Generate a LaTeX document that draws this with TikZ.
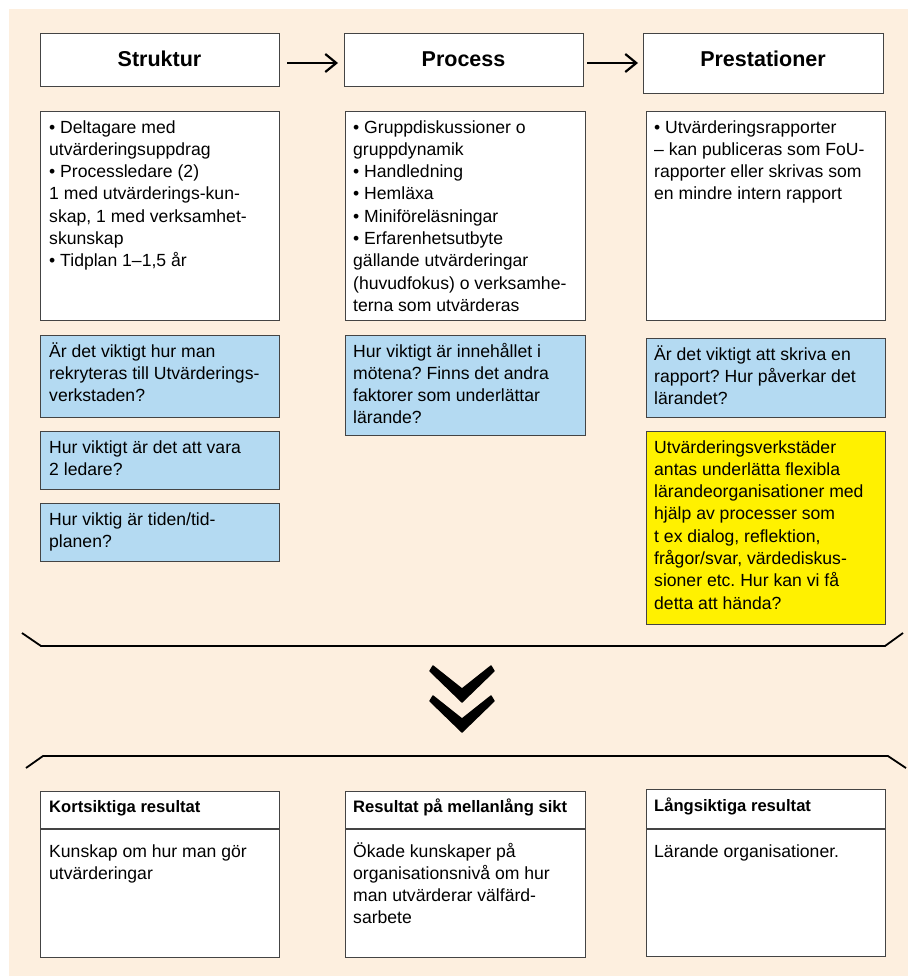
\documentclass[tikz,border=0pt]{standalone}
\usepackage{fontspec}
\setmainfont{Liberation Sans}
\usetikzlibrary{arrows.meta,calc}
\frenchspacing
\definecolor{peach}{HTML}{FDEFDF}
\definecolor{qblue}{HTML}{B4DAF2}
\definecolor{ylw}{HTML}{FFF100}
\definecolor{edgegray}{HTML}{444444}
\newcommand\bodytxt[1]{\parbox[t]{260pt}{\fontsize{17.6}{22.3}\selectfont\raggedright #1}}
\newcommand\headtxt[1]{\fontsize{21.5}{26}\selectfont\bfseries #1}
\newcommand\titletxt[1]{\fontsize{16.6}{20}\selectfont\bfseries #1}
\tikzset{
  boxw/.style={draw=edgegray, line width=1.2pt, fill=white, anchor=north west, inner sep=0pt, minimum width=#1},
  boxb/.style={boxw=#1, fill=qblue},
  boxy/.style={boxw=#1, fill=ylw},
  txt/.style={anchor=base west, inner sep=0pt},
  htxt/.style={anchor=base, inner sep=0pt},
  brk/.style={line width=1.8pt, line join=miter},
  arr/.style={line width=2.2pt, -{Straight Barb[length=11pt,width=18pt,line width=2.2pt]}},
}
\begin{document}
\frenchspacing
\begin{tikzpicture}[x=1pt,y=-1pt]
\useasboundingbox (0,0) rectangle (908,977);
\fill[peach] (9,9) rectangle (908,976);

% header boxes
\node[boxw=239pt, minimum height=53pt] (hS) at (40,33) {};
\node[boxw=239pt, minimum height=53pt] (hP) at (344,33) {};
\node[boxw=240pt, minimum height=60pt] (hR) at (643,33) {};
\node[htxt] (hSt) at (159.5,66) {\headtxt{Struktur}};
\node[htxt] (hPt) at (463.5,66) {\headtxt{Process}};
\node[htxt] (hRt) at (763,66) {\headtxt{Prestationer}};

\coordinate (a1s) at (287,63); \coordinate (a1e) at (338,63);
\coordinate (a2s) at (587,63); \coordinate (a2e) at (638,63);
\draw[arr] (a1s) -- (a1e);
\draw[arr] (a2s) -- (a2e);

% content boxes
\node[boxw=239pt, minimum height=209pt] (cS) at (40,111) {};
\node[boxw=240pt, minimum height=209pt] (cP) at (345,111) {};
\node[boxw=239pt, minimum height=209pt] (cR) at (646,111) {};
\node[txt] (cSt) at (49,133) {\bodytxt{• Deltagare med\\utvärderingsuppdrag\\• Processledare (2)\\1 med utvärderings-kun-\\skap, 1 med verksamhet-\\skunskap\\• Tidplan 1–1,5 år}};
\node[txt] (cPt) at (353,133) {\bodytxt{• Gruppdiskussioner o\\gruppdynamik\\• Handledning\\• Hemläxa\\• Miniföreläsningar\\• Erfarenhetsutbyte\\gällande utvärderingar\\(huvudfokus) o verksamhe-\\terna som utvärderas}};
\node[txt] (cRt) at (654,133) {\bodytxt{• Utvärderingsrapporter\\– kan publiceras som FoU-\\rapporter eller skrivas som\\en mindre intern rapport}};

% question boxes
\node[boxb=239pt, minimum height=82pt] (qS1) at (40,335) {};
\node[boxb=239pt, minimum height=58pt] (qS2) at (40,431) {};
\node[boxb=239pt, minimum height=58pt] (qS3) at (40,503) {};
\node[boxb=240pt, minimum height=100pt] (qP) at (345,335) {};
\node[boxb=239pt, minimum height=79pt] (qR) at (646,338) {};
\node[boxy=239pt, minimum height=193pt] (yR) at (646,431) {};
\node[txt] (qS1t) at (49,357) {\bodytxt{Är det viktigt hur man\\rekryteras till Utvärderings-\\verkstaden?}};
\node[txt] (qS2t) at (49,453) {\bodytxt{Hur viktigt är det att vara\\2 ledare?}};
\node[txt] (qS3t) at (49,525) {\bodytxt{Hur viktig är tiden/tid-\\planen?}};
\node[txt] (qPt) at (353,357) {\bodytxt{Hur viktigt är innehållet i\\mötena? Finns det andra\\faktorer som underlättar\\lärande?}};
\node[txt] (qRt) at (654,360) {\bodytxt{Är det viktigt att skriva en\\rapport? Hur påverkar det\\lärandet?}};
\node[txt] (yRt) at (654,453) {\bodytxt{Utvärderingsverkstäder\\antas underlätta flexibla\\lärandeorganisationer med\\hjälp av processer som\\t ex dialog, reflektion,\\frågor/svar, värdediskus-\\sioner etc. Hur kan vi få\\detta att hända?}};

% brackets
\draw[brk] (22,633) -- (41,646) -- (885,646) -- (903,633);
\draw[brk] (26,768) -- (43,756) -- (888,756) -- (906,768);

% double chevron
\foreach \dy in {0,30}{
  \filldraw[line join=round, line width=1.4pt]
    (433,666+\dy) -- (462,689+\dy) -- (491,666+\dy) -- (494,671+\dy)
    -- (462,702+\dy) -- (430,671+\dy) -- cycle;
}

% result boxes
\node[boxw=239pt, minimum height=166pt] (bS) at (40,791) {};
\node[boxw=240pt, minimum height=166pt] (bP) at (345,791) {};
\node[boxw=239pt, minimum height=167pt] (bR) at (646,789) {};
\draw[draw=edgegray, line width=1.2pt] ($(bS.north west)+(0,38)$) -- ($(bS.north east)+(0,38)$);
\draw[draw=edgegray, line width=1.2pt] ($(bP.north west)+(0,38)$) -- ($(bP.north east)+(0,38)$);
\draw[draw=edgegray, line width=1.2pt] ($(bR.north west)+(0,40)$) -- ($(bR.north east)+(0,40)$);
\node[txt] (bSh) at (49,812) {\titletxt{Kortsiktiga resultat}};
\node[txt] (bPh) at (353,812) {\titletxt{Resultat på mellanlång sikt}};
\node[txt] (bRh) at (654,811) {\titletxt{Långsiktiga resultat}};
\node[txt] (bSt) at (49,857) {\bodytxt{Kunskap om hur man gör\\utvärderingar}};
\node[txt] (bPt) at (353,857) {\bodytxt{Ökade kunskaper på\\organisationsnivå om hur\\man utvärderar välfärd-\\sarbete}};
\node[txt] (bRt) at (654,857) {\bodytxt{Lärande organisationer.}};
\end{tikzpicture}
\end{document}
